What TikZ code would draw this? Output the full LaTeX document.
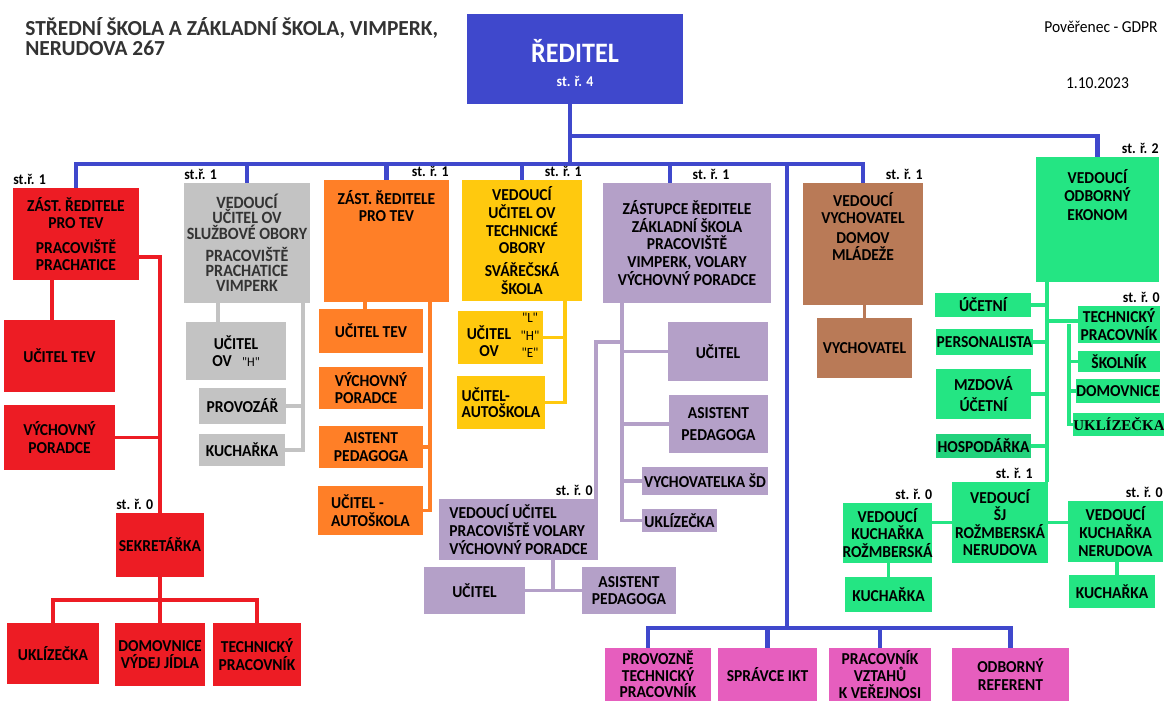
\documentclass[tikz,border=0pt]{standalone}
\usepackage{fontspec}
\setmainfont{Carlito}
\newfontfamily\orgfont{Carlito}[FakeStretch=0.93]
\newfontfamily\serifbox{Liberation Serif}
\usetikzlibrary{calc,positioning}

\definecolor{redi}{HTML}{3F48CC}
\definecolor{zrd}{HTML}{ED1C24}
\definecolor{sluz}{HTML}{C3C3C3}
\definecolor{tev}{HTML}{FF7F27}
\definecolor{tech}{HTML}{FFC90E}
\definecolor{zs}{HTML}{B4A0C8}
\definecolor{dm}{HTML}{B97A57}
\definecolor{ekn}{HTML}{24E583}
\definecolor{ekn2}{HTML}{22D27C}
\definecolor{prov}{HTML}{E65EBE}

\tikzset{
  box/.style={fill=#1, inner sep=0pt, outer sep=0pt, align=center, text=black,
    font=\orgfont\bfseries\fontsize{9.5}{10}\selectfont},
  wh/.style 2 args={minimum width=#1*0.02cm, minimum height=#2*0.02cm},
  intext/.style={inner sep=0pt, align=center, font=\orgfont\bfseries\fontsize{9.5}{10}\selectfont},
  st/.style={inner sep=0pt, font=\orgfont\bfseries\fontsize{8.5}{9}\selectfont},
  stR/.style={label={[st, anchor=south east, yshift=2pt]north east:#1}},
  stL/.style={label={[st, anchor=south west, yshift=2pt]north west:#1}},
  ln/.style={draw=#1, line width=1.9pt},
}

\begin{document}
\begin{tikzpicture}[x=0.02cm, y=-0.02cm]
\useasboundingbox (0,0) rectangle (1164,702);

% hlavicka
\node[anchor=north west, align=left, inner sep=0pt, text=black!80,
  font=\bfseries\fontsize{12.2}{11.3}\selectfont] (skola) at (25,17)
  {STŘEDNÍ ŠKOLA A ZÁKLADNÍ ŠKOLA, VIMPERK,\\NERUDOVA 267};
\node[anchor=base east, inner sep=0pt, font=\orgfont\fontsize{9.5}{11}\selectfont] (gdpr) at (1158,33) {Pověřenec - GDPR};
\node[anchor=base, inner sep=0pt, font=\orgfont\fontsize{9.5}{11}\selectfont] (datum) at (1097.5,89) {1.10.2023};

% reditel
\node[box=redi, wh={216}{90},
  label={[intext, text=white, font=\orgfont\bfseries\fontsize{16}{16}\selectfont, anchor=north, yshift=-14pt]north:ŘEDITEL},
  label={[st, text=white, anchor=south, yshift=9.6pt]south:st. ř. 4}] (dir) at (575,59) {};

% TEV Prachatice
\node[box=zrd, wh={126}{92}, stL=st.ř. 1] (zastP) at (76,234) {ZÁST. ŘEDITELE\\PRO TEV\\[4pt]PRACOVIŠTĚ\\PRACHATICE};
\node[box=zrd, wh={111}{72}] (ucTevP) at (59.5,356) {UČITEL TEV};
\node[box=zrd, wh={111}{65}] (vpP) at (59.5,437.5) {VÝCHOVNÝ\\PORADCE};
\node[box=zrd, wh={88}{64}, stL=st. ř. 0] (sekr) at (160,545) {SEKRETÁŘKA};
\node[box=zrd, wh={92}{61}] (uklP) at (53,653.5) {UKLÍZEČKA};
\node[box=zrd, wh={90}{63}] (domP) at (160,654.5) {DOMOVNICE\\VÝDEJ JÍDLA};
\node[box=zrd, wh={88}{63}] (techP) at (257,654.5) {TECHNICKÝ\\PRACOVNÍK};

% sluzbove obory
\node[box=sluz, wh={126}{120}, stL=st.ř. 1, text=black!80, font=\orgfont\bfseries\fontsize{9.8}{8.8}\selectfont] (svc) at (247,243)
  {VEDOUCÍ\\UČITEL OV\\SLUŽBOVÉ OBORY\\[3.5pt]PRACOVIŠTĚ\\PRACHATICE\\VIMPERK};
\node[box=sluz, wh={100}{58}] (ucOvH) at (236,351) {UČITEL\\OV\hspace{6pt}{\mdseries\fontsize{7.5}{8}\selectfont"H"}};
\node[box=sluz, wh={87}{36}] (provoz) at (242.5,406) {PROVOZÁŘ};
\node[box=sluz, wh={86}{32}] (kuchS) at (242,450) {KUCHAŘKA};

% TEV
\node[box=tev, wh={125}{122}, stR=st. ř. 1,
  label={[intext, anchor=north, yshift=-5.7pt]north:{ZÁST. ŘEDITELE\\PRO TEV}}] (zastO) at (386.5,241) {};
\node[box=tev, wh={104}{44}] (ucTevO) at (371,331) {UČITEL TEV};
\node[box=tev, wh={104}{42}, align=left] (vpO) at (371,388) {VÝCHOVNÝ\\PORADCE};
\node[box=tev, wh={104}{42}] (apO) at (371,447) {AISTENT\\PEDAGOGA};
\node[box=tev, wh={105}{49}, align=left] (autO) at (370.5,510.5) {UČITEL -\\AUTOŠKOLA};

% technicke obory
\node[box=tech, wh={120}{121}, stR=st. ř. 1] (vuto) at (522,240.5)
  {VEDOUCÍ\\UČITEL OV\\TECHNICKÉ\\OBORY\\[3pt]SVÁŘEČSKÁ\\ŠKOLA};
\node[box=tech, wh={85}{53}] (ucOvY) at (500.5,337.5) {};
\node[intext] (ucOvYt) at (489,341) {UČITEL\\OV};
\node[intext, font=\orgfont\fontsize{8}{9.9}\selectfont] (ucOvYq) at (530,335.5) {"L"\\"H"\\"E"};
\node[box=tech, wh={88}{53}, align=left, font=\orgfont\bfseries\fontsize{9.5}{9}\selectfont] (autY) at (501,402.5) {UČITEL-\\AUTOŠKOLA};

% zakladni skola
\node[box=zs, wh={168}{120},
  label={[st, anchor=south, xshift=0.48cm, yshift=2pt]north:st. ř. 1}] (zsz) at (687,243)
  {ZÁSTUPCE ŘEDITELE\\ZÁKLADNÍ ŠKOLA\\PRACOVIŠTĚ\\VIMPERK, VOLARY\\VÝCHOVNÝ PORADCE};
\node[box=zs, wh={100}{59}] (ucZ) at (718,351.5) {UČITEL};
\node[box=zs, wh={99}{58}] (apZ) at (718.5,424) {ASISTENT\\[2.5pt]PEDAGOGA};
\node[box=zs, wh={126}{28}] (vychSD) at (705,481) {VYCHOVATELKA ŠD};
\node[box=zs, wh={75}{23}] (uklZ) at (679.5,520.5) {UKLÍZEČKA};
\node[box=zs, wh={159}{61}, align=left,
  label={[st, anchor=south east, xshift=-0.1cm, yshift=2pt]north east:st. ř. 0}] (vuv) at (518.5,529.5)
  {VEDOUCÍ UČITEL\\PRACOVIŠTĚ VOLARY\\VÝCHOVNÝ PORADCE};
\node[box=zs, wh={101}{47}] (ucV) at (474.5,590.5) {UČITEL};
\node[box=zs, wh={94}{47}] (apV) at (629,590.5) {ASISTENT\\PEDAGOGA};

% domov mladeze
\node[box=dm, wh={120}{122}, stR=st. ř. 1,
  label={[intext, anchor=north, yshift=-5pt]north:{VEDOUCÍ\\VYCHOVATEL\\[1pt]DOMOV\\MLÁDEŽE}}] (vvdm) at (863,244) {};
\node[box=dm, wh={95}{60}] (vych) at (864.5,348) {VYCHOVATEL};

% ekonom
\node[box=ekn, wh={123}{125}, stR=st. ř. 2,
  label={[intext, anchor=north, yshift=-6.8pt]north:{VEDOUCÍ\\[0.5pt]ODBORNÝ\\[0.5pt]EKONOM}}] (ekon) at (1097.5,219.5) {};
\node[box=ekn, wh={96}{24}] (uce) at (983,305) {ÚČETNÍ};
\node[box=ekn, wh={97}{26}] (pers) at (984.5,342) {PERSONALISTA};
\node[box=ekn, wh={95}{50}] (mzd) at (983.5,394) {MZDOVÁ\\[1.5pt]ÚČETNÍ};
\node[box=ekn2, wh={95}{24}] (hosp) at (983.5,446) {HOSPODÁŘKA};
\node[box=ekn, wh={82}{37}, stR=st. ř. 0] (techE) at (1119,324.5) {TECHNICKÝ\\PRACOVNÍK};
\node[box=ekn, wh={82}{21}] (skol) at (1119,361.5) {ŠKOLNÍK};
\node[box=ekn, wh={80}{24}] (domE) at (1118,391) {DOMOVNICE};
\node[box=ekn, wh={82}{23}, font=\serifbox\bfseries\fontsize{8.5}{10}\selectfont] (uklE) at (1119,424.5) {UKLÍZEČKA};
\node[box=ekn, wh={96}{81},
  label={[st, anchor=south east, xshift=-0.3cm, yshift=2pt]north east:st. ř. 1}] (vsj) at (1000,522.5)
  {VEDOUCÍ\\ŠJ\\ROŽMBERSKÁ\\NERUDOVA};
\node[box=ekn, wh={89}{60}, stR=st. ř. 0] (vkr) at (887.5,533) {VEDOUCÍ\\KUCHAŘKA\\ROŽMBERSKÁ};
\node[box=ekn, wh={87}{35}] (kr) at (888.5,594.5) {KUCHAŘKA};
\node[box=ekn, wh={95}{61}, stR=st. ř. 0] (vkn) at (1115.5,531.5) {VEDOUCÍ\\KUCHAŘKA\\NERUDOVA};
\node[box=ekn, wh={86}{33}] (kn) at (1112,591.5) {KUCHAŘKA};

% provozni useky
\node[box=prov, wh={106}{53}, font=\orgfont\bfseries\fontsize{9.5}{9.4}\selectfont] (ptp) at (658,674.5) {PROVOZNĚ\\TECHNICKÝ\\PRACOVNÍK};
\node[box=prov, wh={99}{53}] (ikt) at (767.5,674.5) {SPRÁVCE IKT};
\node[box=prov, wh={102}{53}, font=\orgfont\bfseries\fontsize{9.5}{9.6}\selectfont] (vzt) at (880,674.5) {PRACOVNÍK\\VZTAHŮ\\K VEŘEJNOSI};
\node[box=prov, wh={117}{53}] (odb) at (1010.5,674.5) {ODBORNÝ\\REFERENT};

% spojnice - reditel
\coordinate (bus) at (570,164);
\coordinate (bus2) at (570,136);
\coordinate (bb) at (787,628);
\draw[ln=redi, line width=2.4pt] (bus |- dir.south) -- (bus);
\draw[ln=redi, line width=2.4pt] (bus2) -| (ekon.north);
\draw[ln=redi, line width=2.4pt] (zastP.north) |- (bus) -| (vvdm.north);
\draw[ln=redi, line width=2.4pt] (svc.north) -- (svc.north |- bus);
\draw[ln=redi, line width=2.4pt] (zastO.north) -- (zastO.north |- bus);
\draw[ln=redi, line width=2.4pt] (vuto.north) -- (vuto.north |- bus);
\draw[ln=redi, line width=2.4pt] ([xshift=-0.34cm]zsz.north) -- ([xshift=-0.34cm]zsz.north |- bus);
\draw[ln=redi, line width=2.4pt] (bb |- bus) -- (bb);
\draw[ln=redi, line width=2.4pt] ([xshift=-0.2cm]ptp.north) |- (bb) -| (odb.north);
\draw[ln=redi, line width=2.4pt] (ikt.north) -- (ikt.north |- bb);
\draw[ln=redi, line width=2.4pt] (vzt.north) -- (vzt.north |- bb);

% spojnice - Prachatice
\draw[ln=zrd, line width=2.2pt] ([xshift=-0.15cm]ucTevP.north) -- ([xshift=-0.15cm]ucTevP.north |- zastP.south);
\draw[ln=zrd, line width=2.2pt] ([yshift=-0.46cm]zastP.east) -| (sekr.north);
\draw[ln=zrd, line width=2.2pt] (vpP.east) -- (vpP.east -| sekr.north);
\coordinate (sj) at ($(sekr.south)!.5!(domP.north)$);
\draw[ln=zrd, line width=2.2pt] (sekr.south) -- (domP.north);
\draw[ln=zrd, line width=2.2pt] (uklP.north) |- (sj) -| (techP.north);

% spojnice - sluzbove obory
\coordinate (gs) at ([xshift=-0.14cm]svc.south east);
\draw[ln=sluz, line width=2.2pt] ([xshift=-0.36cm]ucOvH.north) -- ([xshift=-0.36cm]ucOvH.north |- svc.south);
\draw[ln=sluz, line width=2.2pt] (gs) |- (kuchS.east);
\draw[ln=sluz, line width=2.2pt] (provoz.east) -- (provoz.east -| gs);

% spojnice - TEV
\coordinate (os) at ([xshift=-0.38cm]zastO.south east);
\draw[ln=tev] ([xshift=-0.12cm]ucTevO.north) -- ([xshift=-0.12cm]ucTevO.north |- zastO.south);
\draw[ln=tev] (os) |- (autO.east);
\draw[ln=tev] (apO.east) -- (apO.east -| os);

% spojnice - technicke obory
\coordinate (ys) at ([xshift=-0.34cm]vuto.south east);
\draw[ln=tech, line width=2.2pt] (ys) |- (autY.east);
\draw[ln=tech, line width=2.2pt] (ucOvY.east) -- (ucOvY.east -| ys);

% spojnice - zakladni skola
\coordinate (ps) at ([xshift=-1.3cm]zsz.south);
\coordinate (pv) at ($(ucZ.west -| ps)+(0,-9.5)$);
\draw[ln=zs] (ps) |- (uklZ.west);
\draw[ln=zs] (ucZ.west) -- (ucZ.west -| ps);
\draw[ln=zs] (apZ.west) -- (apZ.west -| ps);
\draw[ln=zs] (vychSD.west) -- (vychSD.west -| ps);
\draw[ln=zs] (pv) -| ([xshift=-0.04cm]vuv.north east);
\coordinate (vj) at ([xshift=0.69cm]vuv.south);
\draw[ln=zs] (vj) |- (ucV.east);
\draw[ln=zs] (vj |- ucV.east) -- (apV.west);

% spojnice - domov mladeze
\draw[ln=dm] (vych.north |- vvdm.south) -- (vych.north);

% spojnice - ekonom
\coordinate (gv) at ([xshift=0.22cm]ekon.south west);
\coordinate (gt) at ([xshift=-0.18cm]techE.west);
\draw[ln=ekn] (gv) -- (gv |- vsj.north);
\draw[ln=ekn] (uce.east) -- (uce.east -| gv);
\draw[ln=ekn] (pers.east) -- (pers.east -| gv);
\draw[ln=ekn] (mzd.east) -- (mzd.east -| gv);
\draw[ln=ekn] (hosp.east) -- (hosp.east -| gv);
\draw[ln=ekn] ([yshift=0.07cm]gv |- techE.west) -- ([yshift=0.07cm]techE.west);
\draw[ln=ekn] (gt) |- (uklE.west);
\draw[ln=ekn] (skol.west) -- (skol.west -| gt);
\draw[ln=ekn] (domE.west) -- (domE.west -| gt);
\draw[ln=ekn] (vsj.west) -- (vkr.east |- vsj.west);
\draw[ln=ekn] (vsj.east) -- (vkn.west |- vsj.east);
\draw[ln=ekn] (kr.north |- vkr.south) -- (kr.north);
\draw[ln=ekn] ([xshift=0.1cm]kn.north |- vkn.south) -- ([xshift=0.1cm]kn.north);
\end{tikzpicture}
\end{document}
